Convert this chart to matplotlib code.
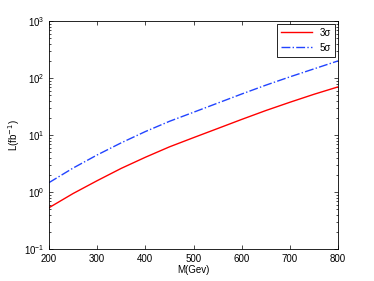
import numpy as np
import matplotlib.pyplot as plt

plt.rcParams['font.family'] = ['Liberation Sans', 'DejaVu Sans']

mass = [200, 250, 300, 350, 400, 450, 500, 550, 600, 650, 700, 750, 800]
lum_3sigma = [0.53, 0.94, 1.58, 2.6, 4.07, 6.2, 9.0, 13.0, 18.8, 26.9, 37.6, 51.9, 70]
lum_5sigma = [1.46, 2.63, 4.47, 7.3, 11.5, 17.4, 25.1, 36.3, 52.5, 75, 105, 145, 200]

fig = plt.figure(figsize=(3.74, 2.81), dpi=100)
ax = fig.add_axes([0.131, 0.114, 0.773, 0.811])
ax.plot(mass, lum_3sigma, color="red", linewidth=1.0, label="3σ")
ax.plot(mass, lum_5sigma, color="#2244ff", linewidth=1.0, linestyle="-.", label="5σ")
ax.set_yscale("log")
ax.set_xlim(200, 800)
ax.set_ylim(1e-1, 1e3)
ax.set_xticks([200, 300, 400, 500, 600, 700, 800])
ax.tick_params(which="both", direction="in", top=True, right=True, labelsize=7, width=0.5)
ax.tick_params(which="major", length=3)
ax.tick_params(which="minor", length=1.5)
for s in ax.spines.values():
    s.set_linewidth(0.6)
ax.set_xlabel("M(Gev)", fontsize=7, labelpad=1)
ax.set_ylabel("L(fb$^{-1}$)", fontsize=7, labelpad=1)
leg = ax.legend(loc="upper right", fontsize=7, fancybox=False, edgecolor="black",
                framealpha=1, borderaxespad=0.3, handlelength=3.2)
leg.get_frame().set_linewidth(0.6)
fig.savefig("out.png", dpi=100)
